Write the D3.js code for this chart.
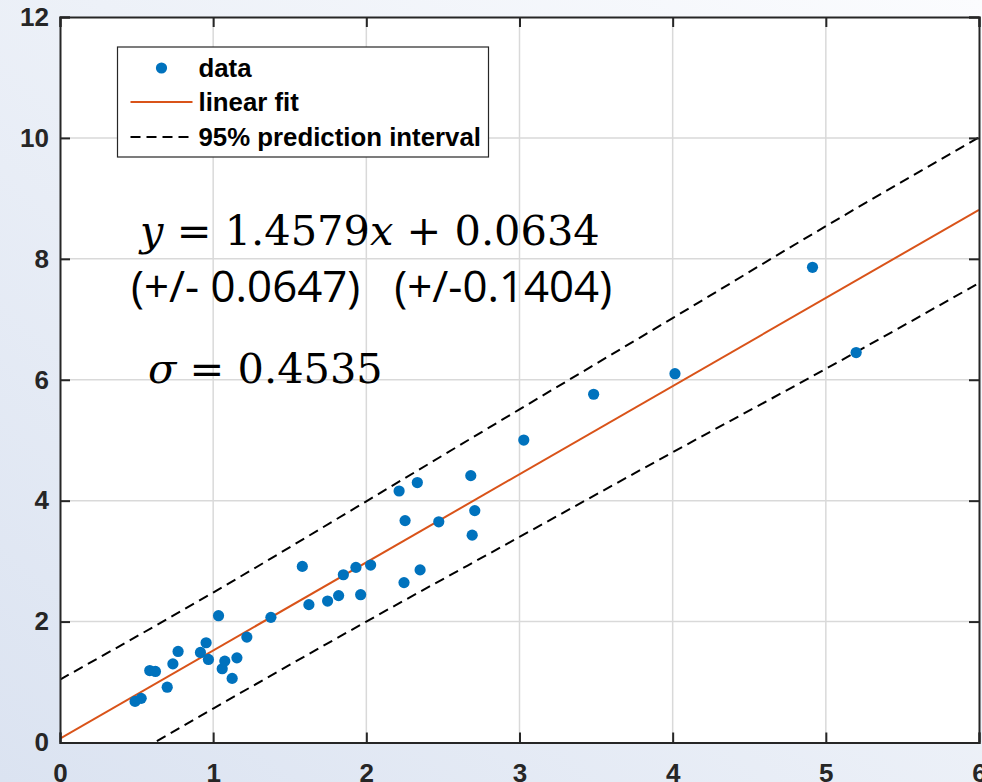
<!DOCTYPE html>
<html>
<head>
<meta charset="utf-8">
<script src="https://cdn.jsdelivr.net/npm/d3@7"></script>
<style>
  html, body { margin: 0; padding: 0; }
  body { width: 982px; height: 782px; overflow: hidden; }
</style>
</head>
<body>
<script>
// data
var dataX = [0.49, 0.53, 0.586, 0.623, 0.70, 0.737, 0.771, 0.917, 0.954, 0.969,
  1.035, 1.059, 1.076, 1.124, 1.155, 1.22, 1.377, 1.582, 1.625, 1.747,
  1.819, 1.850, 1.932, 1.963, 2.028, 2.214, 2.246, 2.253, 2.333, 2.351,
  2.473, 2.682, 2.691, 2.708, 3.028, 3.484, 4.015, 4.913, 5.198]
var dataY = [0.68, 0.73, 1.19, 1.175, 0.915, 1.30, 1.506, 1.49, 1.65, 1.374,
  2.097, 1.22, 1.346, 1.06, 1.40, 1.743, 2.07, 2.913, 2.28, 2.34,
  2.43, 2.775, 2.896, 2.445, 2.935, 4.16, 2.645, 3.67, 4.30, 2.855,
  3.65, 4.414, 3.43, 3.835, 5.003, 5.76, 6.10, 7.86, 6.45]

// fit y = slope*x + intercept (as printed on the chart)
var fitCoef = [1.4579, 0.0634]

// 95% prediction interval, read at whole x values
var piX = [0, 1, 2, 3, 4, 5, 6]
var piUpper = [1.04, 2.48, 3.99, 5.51, 7.02, 8.54, 10.01]
var piLower = [-0.91, 0.56, 2.00, 3.40, 4.80, 6.18, 7.60]

var xTicks = [0, 1, 2, 3, 4, 5, 6]
var yTicks = [0, 2, 4, 6, 8, 10, 12]

var legendLabels = ['data', 'linear fit', '95% prediction interval']

var w = 982
var h = 782
var plotL = 60
var plotR = 979
var plotT = 17
var plotB = 742.5

var svg = d3.select('body')
  .append('svg')
  .attr('width', w)
  .attr('height', h)

// background gradient
var defs = svg.append('defs')
var grad = defs.append('linearGradient')
  .attr('id', 'bg')
  .attr('x1', '0%').attr('y1', '100%')
  .attr('x2', '100%').attr('y2', '0%')
grad.append('stop').attr('offset', '0%').attr('stop-color', '#dbe3f1')
grad.append('stop').attr('offset', '55%').attr('stop-color', '#edf1f8')
grad.append('stop').attr('offset', '100%').attr('stop-color', '#fbfcfe')

defs.append('clipPath').attr('id', 'plotclip')
  .append('rect')
  .attr('x', plotL).attr('y', plotT)
  .attr('width', plotR - plotL).attr('height', plotB - plotT)

svg.append('rect')
  .attr('width', w).attr('height', h)
  .attr('fill', 'url(#bg)')

var xScale = d3.scaleLinear().domain([0, 6]).range([plotL, plotR])
var yScale = d3.scaleLinear().domain([0, 12]).range([plotB, plotT])

// plot area
svg.append('rect')
  .attr('x', plotL).attr('y', plotT)
  .attr('width', plotR - plotL).attr('height', plotB - plotT)
  .attr('fill', '#ffffff')

// grid
svg.append('g')
  .selectAll('line')
  .data(xTicks.slice(1, -1))
  .enter()
  .append('line')
  .attr('x1', function (d) { return xScale(d) })
  .attr('x2', function (d) { return xScale(d) })
  .attr('y1', plotT).attr('y2', plotB)
  .attr('stroke', '#d9d9d9').attr('stroke-width', 1.5)

svg.append('g')
  .selectAll('line')
  .data(yTicks.slice(1, -1))
  .enter()
  .append('line')
  .attr('y1', function (d) { return yScale(d) })
  .attr('y2', function (d) { return yScale(d) })
  .attr('x1', plotL).attr('x2', plotR)
  .attr('stroke', '#d9d9d9').attr('stroke-width', 1.5)

var plot = svg.append('g').attr('clip-path', 'url(#plotclip)')

var piLine = d3.line()
  .x(function (d, i) { return xScale(piX[i]) })
  .y(function (d) { return yScale(d) })
  .curve(d3.curveMonotoneX)

plot.append('path')
  .attr('d', piLine(piUpper))
  .attr('fill', 'none')
  .attr('stroke', '#000000')
  .attr('stroke-width', 2)
  .attr('stroke-dasharray', '10,6')

plot.append('path')
  .attr('d', piLine(piLower))
  .attr('fill', 'none')
  .attr('stroke', '#000000')
  .attr('stroke-width', 2)
  .attr('stroke-dasharray', '10,6')

var fitEnds = xScale.domain()
plot.append('line')
  .attr('x1', xScale(fitEnds[0]))
  .attr('y1', yScale(fitCoef[0] * fitEnds[0] + fitCoef[1]))
  .attr('x2', xScale(fitEnds[1]))
  .attr('y2', yScale(fitCoef[0] * fitEnds[1] + fitCoef[1]))
  .attr('stroke', '#d95319')
  .attr('stroke-width', 2)

plot.selectAll('circle')
  .data(dataX)
  .enter()
  .append('circle')
  .attr('cx', function (d) { return xScale(d) })
  .attr('cy', function (d, i) { return yScale(dataY[i]) })
  .attr('r', 5.6)
  .attr('fill', '#0072bd')

// axes: ticks inside on all four sides
var tickLen = 10
var axisColor = '#262626'
var fmt = d3.format('d')

svg.append('g')
  .attr('transform', 'translate(0,' + plotB + ')')
  .call(d3.axisBottom(xScale).tickValues(xTicks).tickFormat(fmt).tickSize(-tickLen).tickPadding(21))
svg.append('g')
  .attr('transform', 'translate(0,' + plotT + ')')
  .call(d3.axisTop(xScale).tickValues(xTicks).tickSize(-tickLen).tickFormat(''))
svg.append('g')
  .attr('transform', 'translate(' + plotL + ',0)')
  .call(d3.axisLeft(yScale).tickValues(yTicks).tickFormat(fmt).tickSize(-tickLen).tickPadding(11))
svg.append('g')
  .attr('transform', 'translate(' + plotR + ',0)')
  .call(d3.axisRight(yScale).tickValues(yTicks).tickSize(-tickLen).tickFormat(''))

svg.selectAll('.domain, .tick line')
  .attr('stroke', axisColor)
  .attr('stroke-width', 2)
svg.selectAll('.tick text')
  .attr('fill', axisColor)
  .attr('font-family', 'Liberation Sans, Arial, sans-serif')
  .attr('font-weight', 'bold')
  .attr('font-size', '26px')

// annotations
var eq = svg.append('text')
  .attr('x', xScale(0.523))
  .attr('y', yScale(8.23))
  .attr('font-family', 'DejaVu Serif, Liberation Serif, serif')
  .attr('font-size', '41.5px')
  .attr('fill', '#000')
eq.append('tspan').attr('font-style', 'italic').text('y')
eq.append('tspan').text(' = 1.4579')
eq.append('tspan').attr('font-style', 'italic').text('x')
eq.append('tspan').text(' + 0.0634')

svg.append('text')
  .attr('x', xScale(0.464))
  .attr('y', yScale(7.29))
  .attr('font-family', 'Open Sans, Noto Sans, sans-serif')
  .attr('font-size', '43.8px')
  .attr('fill', '#000')
  .attr('xml:space', 'preserve')
  .text('(+/- 0.0647)   (+/-0.1404)')

var sig = svg.append('text')
  .attr('x', xScale(0.575))
  .attr('y', yScale(5.95))
  .attr('font-family', 'DejaVu Serif, Liberation Serif, serif')
  .attr('font-size', '41.5px')
  .attr('fill', '#000')
sig.append('tspan').attr('font-style', 'italic').text('\u03c3')
sig.append('tspan').text(' = 0.4535')

// legend
var lg = svg.append('g').attr('transform', 'translate(117.5,47)')
lg.append('rect')
  .attr('width', 371).attr('height', 110)
  .attr('fill', '#ffffff')
  .attr('stroke', '#262626')
  .attr('stroke-width', 1.2)

var rowY = [21, 55, 90]
lg.append('circle')
  .attr('cx', 44).attr('cy', rowY[0]).attr('r', 5.6)
  .attr('fill', '#0072bd')
lg.append('line')
  .attr('x1', 13).attr('x2', 75).attr('y1', rowY[1]).attr('y2', rowY[1])
  .attr('stroke', '#d95319').attr('stroke-width', 2)
lg.append('line')
  .attr('x1', 13).attr('x2', 75).attr('y1', rowY[2]).attr('y2', rowY[2])
  .attr('stroke', '#000').attr('stroke-width', 2)
  .attr('stroke-dasharray', '10,6')

lg.selectAll('text')
  .data(legendLabels)
  .enter()
  .append('text')
  .text(function (d) { return d })
  .attr('x', 81)
  .attr('y', function (d, i) { return rowY[i] + 9 })
  .attr('font-family', 'Liberation Sans, Arial, sans-serif')
  .attr('font-weight', 'bold')
  .attr('font-size', '25.8px')
  .attr('fill', '#000')
</script>
</body>
</html>
